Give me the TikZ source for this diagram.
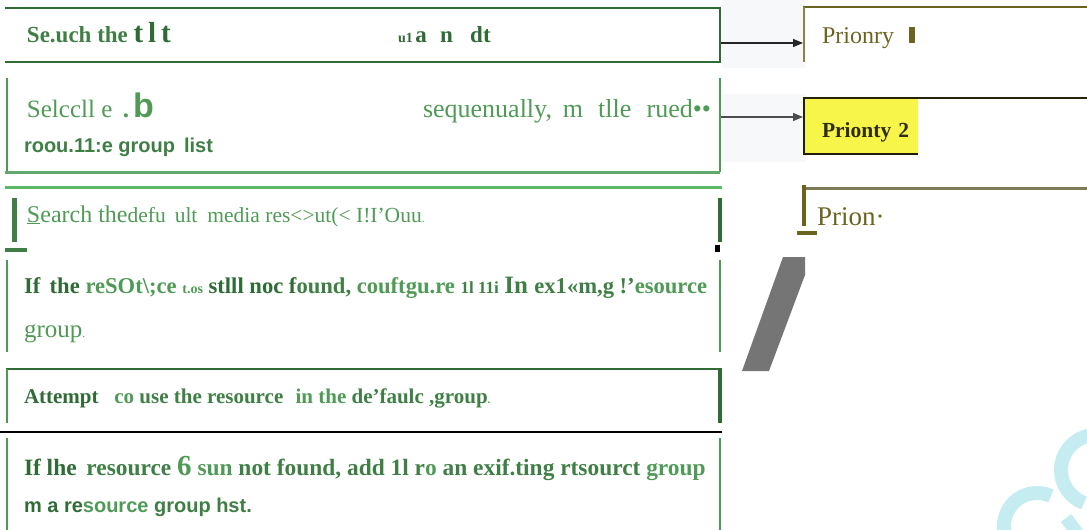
\documentclass[tikz,border=0pt]{standalone}
\usepackage{fontspec}
\setmainfont{Liberation Serif}
\newfontfamily\sansf{Liberation Sans}
\usetikzlibrary{arrows.meta}
\definecolor{dkgreen}{HTML}{2F6B35}
\definecolor{mdgreen}{HTML}{3F7F45}
\definecolor{ltgreen}{HTML}{4F9A56}
\definecolor{lnlight}{HTML}{4C9A52}
\definecolor{lnpale}{HTML}{62A86A}
\definecolor{lnbright}{HTML}{5CB866}
\definecolor{olive}{HTML}{6B6420}
\definecolor{olivel}{HTML}{8A8345}
\definecolor{oliveg}{HTML}{7D7A55}
\definecolor{ylw}{HTML}{F7F54A}
\definecolor{slant}{HTML}{757575}
\definecolor{wmark}{HTML}{C5ECF0}
\definecolor{haze}{HTML}{F6F8FA}
\tikzset{
  txt/.style={anchor=base west, inner sep=0pt, outer sep=0pt},
  fs/.code={\fontsize{#1}{#1}\selectfont},
  boxdark/.style={draw=dkgreen, line width=2pt},
  boxlight/.style={draw=lnlight, line width=2pt},
  conn/.style={draw=black!85, line width=1.2pt, -{Triangle[length=10pt,width=8pt]}},
  oliveline/.style={draw=olive, line width=2pt}
}
\begin{document}
\begin{tikzpicture}[x=1pt,y=-1pt]
\useasboundingbox (0,0) rectangle (1087,530);
\clip (0,0) rectangle (1087,530);
% faint hazes behind connectors
\fill[haze] (722,0) rectangle (806,68);
\fill[haze] (722,94) rectangle (806,162);
% ---------- Box 1
\draw[boxdark] (5,8) -- (720,8) -- (720,62) -- (5,62);
\node[txt, fs=23, text=mdgreen, font=\bfseries] (t1a) at (27,42) {Se.uch the \fontsize{29}{29}\selectfont\color{dkgreen}t\,l\,t};
\node[txt, text=dkgreen, font=\bfseries] (t1b) at (398,42) {{\fontsize{14}{14}\selectfont u1} {\fontsize{23}{23}\selectfont a\,\, n\,\,\, dt}};
% ---------- Box 2
\draw[boxlight] (7,78) -- (7,172);
\draw[boxlight] (720,78) -- (720,172);
\draw[draw=lnpale, line width=3pt] (5,172) -- (720,172);
\node[txt, fs=25, text=ltgreen] (t2a) at (27,117) {Selccll e {\bfseries\,.\,}{\sansf\bfseries\fontsize{34}{34}\selectfont b}};
\node[txt, fs=26, text=ltgreen] (t2b) at (423,117) {sequenually,\, m\,\, tlle\,\, rued\textbullet\textbullet};
\node[txt, fs=20, text=mdgreen, font=\sansf\bfseries] (t2c) at (24,152) {roou.11:e group\, list};
% ---------- Box 3
\draw[draw=lnbright, line width=3pt] (5,187) -- (722,187);
\draw[draw=mdgreen, line width=5pt] (14,198) -- (14,242);
\draw[draw=dkgreen, line width=4pt] (720,198) -- (720,242);
\fill[mdgreen] (5,248) rectangle (27,252);
\fill[black] (715,245) rectangle (720,252);
\node[txt, fs=24, text=ltgreen] (t3) at (27,222) {\underline{S}earch the{\fontsize{21.5}{21.5}\selectfont defu\, ult}\, {\fontsize{21.5}{21.5}\selectfont media res<>ut(< I!I'Ouu}{\fontsize{12}{12}\selectfont .}};
% ---------- Box 4
\draw[boxlight] (7,260) -- (7,352);
\draw[boxlight] (720,260) -- (720,352);
\node[txt, fs=22.6, font=\bfseries] (t4a) at (24,293) {\color{dkgreen}If\, the \color{ltgreen}reSOt\textbackslash;ce {\fontsize{14}{14}\selectfont t.os} \color{dkgreen}stlll noc f\color{mdgreen}ound, \color{ltgreen}couftgu.re \color{mdgreen}{\fontsize{17}{17}\selectfont 1l 11i} \fontsize{25}{25}\selectfont In \fontsize{22.6}{22.6}\selectfont ex1«m,g !'\color{ltgreen}esource};
\node[txt, fs=25, text=ltgreen] (t4b) at (24,337) {group{\fontsize{12}{12}\selectfont .}};
% ---------- Box 5
\draw[boxdark, line width=2.5pt] (6,369) -- (722,369);
\draw[boxlight] (7,369) -- (7,423);
\draw[draw=dkgreen, line width=4pt] (720,369) -- (720,423);
\draw[draw=black, line width=2.5pt] (0,432) -- (722,432);
\node[txt, fs=21, font=\bfseries] (t5) at (24,403) {\color{dkgreen}Attempt\,\,\, \color{ltgreen}co \color{mdgreen}use the resource\,\, \color{ltgreen}in the \color{mdgreen}de'faulc ,group\color{ltgreen}{\fontsize{11}{11}\selectfont .}};
% ---------- Box 6
\draw[boxlight] (7,438) -- (7,530);
\draw[boxlight] (720,438) -- (720,530);
\node[txt, fs=23.4, font=\bfseries] (t6a) at (24,475) {\color{dkgreen}If lhe\, \color{mdgreen}resource {\fontsize{29}{29}\selectfont\color{ltgreen}6} \color{ltgreen}sun \color{mdgreen}not found, add 1l r\color{ltgreen}o \color{mdgreen}an exif.ting rtsourct \color{ltgreen}group};
\node[txt, fs=20, font=\sansf\bfseries] (t6b) at (24,512) {\color{dkgreen}m a re\color{ltgreen}source \color{mdgreen}group hst.};
% ---------- Right column
% Priority 1
\draw[draw=olive, line width=2pt] (803,7) -- (1087,7);
\draw[draw=olivel, line width=2pt] (804,7) -- (804,62);
\node[txt, fs=24, text=olive] (p1) at (822,43) {Prionry};
\fill[olive] (909,27) rectangle (915,43);
% Priority 2
\draw[draw=black!65!olive, line width=2pt] (803,98) -- (1087,98);
\fill[ylw] (804,99) rectangle (918,154);
\draw[draw=black!70!olive, line width=2pt] (804,98) -- (804,154) -- (918,154);
\node[txt, fs=21.5, text=black!55!olive, font=\bfseries] (p2) at (822,137) {Prionty\,\,2};
% Priority 3
\draw[draw=oliveg, line width=3pt] (803,188) -- (1087,188);
\draw[draw=olive, line width=4pt] (804,185) -- (804,226);
\fill[olive] (797,231) rectangle (817,235);
\node[txt, fs=27, text=olive] (p3) at (817,225) {Prion\textperiodcentered};
% connectors
\coordinate (b1r) at (721,43);
\coordinate (p1l) at (803,43);
\coordinate (b2r) at (721,117);
\coordinate (p2l) at (803,117);
\draw[conn] (b1r) -- (p1l);
\draw[conn, draw=black!70] (b2r) -- (p2l);
% slanted bar
\fill[slant] (783,257) -- (805,257) -- (805,275) -- (769,371) -- (742,371) -- cycle;
% watermark
\draw[wmark, line width=14pt] (1037,526) ++(-65:33) arc[start angle=-65, end angle=-245, radius=33];
\draw[wmark, line width=14pt] (1096,470) ++(-90:35) arc[start angle=-90, end angle=-250, radius=35];
\draw[wmark, line width=13pt] (1066,518) -- (1078,534);
\end{tikzpicture}
\end{document}
